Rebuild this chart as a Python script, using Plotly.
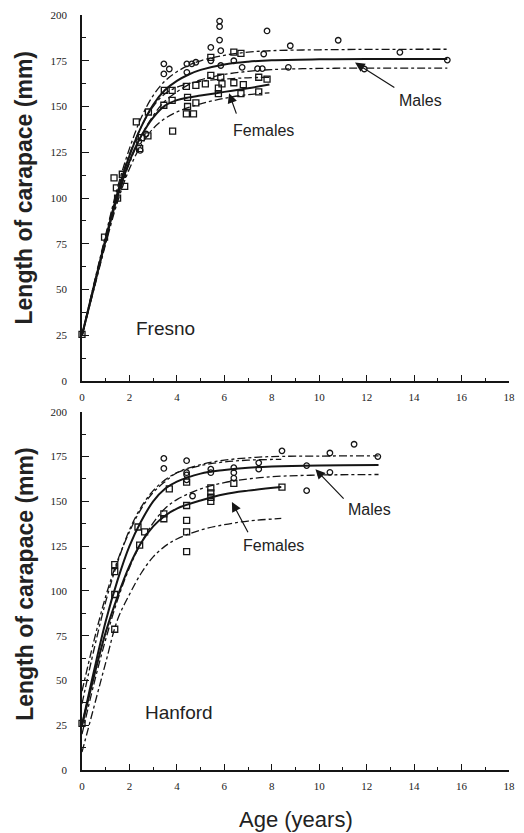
import plotly.graph_objects as go

# ---------------- Fresno ----------------
FM_T = [0, 0.5, 1, 1.5, 2, 2.5, 3, 3.5, 4, 4.5, 5, 6, 7, 8, 10, 12, 15.4]
FM_SOLID = [25, 52, 78, 103, 123, 139, 151, 159, 164, 167.5, 170, 173, 174.5, 175.3, 175.8, 176, 176]
FM_UP = [25, 53, 80, 106, 127, 144, 156, 164, 169, 172.5, 175, 178, 179.7, 180.5, 181, 181.2, 181.3]
FM_LO = [25, 51, 76, 100, 119, 134, 145, 153, 158, 162, 164.5, 167.5, 169.2, 170.2, 170.8, 171, 171]
FF_T = [0, 0.5, 1, 1.5, 2, 2.5, 3, 3.5, 4, 4.5, 5, 6, 7, 7.9]
FF_SOLID = [25, 51, 77, 101, 120, 134, 144, 150.5, 153.5, 155, 156, 158, 160, 162]
FF_UP = [25, 52, 79, 104, 124, 139, 150, 157, 160.5, 162.5, 163.8, 165, 165.7, 166]
FF_LO = [25, 50, 75, 98, 116, 129, 138, 143.5, 147, 149.5, 151.5, 154.5, 156.5, 157.5]

FRESNO_MALE_AGE = [2.4, 2.45, 2.7, 3.45, 3.45, 3.68, 4.42, 4.63, 4.8, 4.42, 5.43, 5.43, 5.8, 5.8, 5.8,
                   5.85, 5.85, 6.4, 6.75, 7.4, 7.6, 7.66, 7.8, 8.7, 8.78, 10.8, 11.9, 13.4, 15.4]
FRESNO_MALE_LEN = [131, 126, 135, 173.3, 167.8, 170.5, 173.3, 173.3, 174.2, 168.7, 182.3, 175, 196.7, 193.7, 186.3,
                   180.5, 172.4, 175, 171.4, 170.7, 170.7, 178.7, 191.3, 171.4, 183.2, 186.2, 170.5, 179.6, 175.4]
FRESNO_FEMALE_AGE = [0, 0.95, 1.35, 1.45, 1.5, 1.8, 1.7, 2.29, 2.43, 2.5, 2.78, 2.8, 3.45, 3.47, 3.8, 3.8,
                     3.82, 4.4, 4.7, 4.4, 4.8, 4.45, 4.8, 4.45, 5.2, 5.43, 5.43, 5.85, 5.75, 5.75, 5.9,
                     6.4, 6.8, 6.4, 6.7, 6.7, 7.45, 7.8, 7.45]
FRESNO_FEMALE_LEN = [25.5, 78.6, 111, 105.6, 100, 106.4, 113, 141.6, 127, 133, 134, 147, 150.7, 158.8, 158.8, 153.4,
                     136.6, 146, 146, 161, 161.5, 155, 152, 150, 162.4, 176.9, 167, 166, 160, 157, 162.4,
                     163, 162, 179.7, 179, 157, 166, 165, 158]

# ---------------- Hanford ----------------
HM_T = [0, 0.5, 1, 1.5, 2, 2.5, 3, 3.5, 4, 5, 6, 7, 8, 10, 12.5]
HM_SOLID = [25, 55, 83, 106, 125, 139, 150, 157, 161, 165.5, 167.5, 168.8, 169.5, 170.1, 170.3]
HM_UP = [44, 72, 97, 117, 133, 146, 155, 161, 166, 170.5, 173, 174.3, 175, 175.3, 175.4]
HM_LO = [20, 48, 73, 95, 113, 127, 138, 146, 151, 157, 160.5, 162.5, 163.8, 164.7, 165]
HF_T = [0, 0.5, 1, 1.5, 2, 2.5, 3, 3.5, 4, 5, 6, 7, 8.4]
HF_SOLID = [25, 52, 77, 97, 114, 127, 136, 142, 146, 150.5, 154, 156, 158]
HF_UP = [37, 67, 94, 116, 134, 147, 156, 162, 166, 170, 172, 173, 173.5]
HF_LO = [10, 35, 60, 84, 98, 110, 119, 125, 129, 134, 137, 139, 140.5]

HANFORD_MALE_AGE = [3.45, 3.45, 4.41, 4.41, 4.41, 4.41, 4.66, 5.43, 5.43, 6.4, 6.4, 6.4, 7.45, 7.45,
                    8.43, 9.47, 9.47, 10.45, 10.45, 11.47, 12.47]
HANFORD_MALE_LEN = [174, 168.4, 172.7, 166, 164.8, 162, 153, 168, 166, 168.8, 166, 163, 171.5, 168,
                    178.2, 170, 156, 177, 166.2, 181.9, 175]
HANFORD_FEMALE_AGE = [0, 1.38, 1.38, 1.38, 1.38, 2.36, 2.43, 2.64, 3.45, 3.45, 3.68, 4.41, 4.41, 4.41,
                      4.41, 4.41, 5.43, 5.43, 5.43, 5.43, 6.4, 8.43]
HANFORD_FEMALE_LEN = [26, 78.6, 98, 110.8, 114.7, 135.7, 125.6, 133, 143, 140.3, 157, 160.7, 147.7, 139.4,
                      133, 121.9, 157.5, 154.8, 152.3, 150, 160, 158]

X_TICKS = [0, 2, 4, 6, 8, 10, 12, 14, 16, 18]
Y_TICKS = [0, 25, 50, 75, 100, 125, 150, 175, 200]

INK = "#151515"
DASH = "8px,3px,3px,3px"

fig = go.Figure()


def add_panel(xa, ya, mt, ms, mu, ml, ft, fs, fu, fl, mage, mlen, fage, flen):
    for t, v, w, d in [(mt, mu, 1.3, DASH), (mt, ml, 1.3, DASH), (ft, fu, 1.3, DASH), (ft, fl, 1.3, DASH),
                       (mt, ms, 2.0, "solid"), (ft, fs, 2.0, "solid")]:
        fig.add_trace(go.Scatter(x=t, y=v, mode="lines", xaxis=xa, yaxis=ya,
                                 line=dict(color=INK, width=w, dash=d, shape="spline", smoothing=1.0),
                                 showlegend=False, hoverinfo="skip"))
    fig.add_trace(go.Scatter(x=fage, y=flen, mode="markers", xaxis=xa, yaxis=ya, cliponaxis=False,
                             marker=dict(symbol="square-open", size=6, color=INK, line=dict(width=1.3)),
                             showlegend=False))
    fig.add_trace(go.Scatter(x=mage, y=mlen, mode="markers", xaxis=xa, yaxis=ya, cliponaxis=False,
                             marker=dict(symbol="circle-open", size=5.5, color=INK, line=dict(width=1.3)),
                             showlegend=False))


add_panel("x", "y", FM_T, FM_SOLID, FM_UP, FM_LO, FF_T, FF_SOLID, FF_UP, FF_LO,
          FRESNO_MALE_AGE, FRESNO_MALE_LEN, FRESNO_FEMALE_AGE, FRESNO_FEMALE_LEN)
add_panel("x2", "y2", HM_T, HM_SOLID, HM_UP, HM_LO, HF_T, HF_SOLID, HF_UP, HF_LO,
          HANFORD_MALE_AGE, HANFORD_MALE_LEN, HANFORD_FEMALE_AGE, HANFORD_FEMALE_LEN)

tickfont = dict(family="Liberation Serif", size=11, color="#222")
xcommon = dict(range=[0, 18], tickvals=X_TICKS, ticks="inside", ticklen=6, tickwidth=1.2, tickcolor=INK,
               showline=True, linecolor=INK, linewidth=1.5, showgrid=False, zeroline=False,
               tickfont=tickfont, ticklabelstandoff=5,
               minor=dict(ticks="inside", ticklen=3, dtick=1, tick0=0, tickcolor=INK, tickwidth=1.2, showgrid=False))
ycommon = dict(range=[0, 200], tickvals=Y_TICKS, ticks="inside", ticklen=7, tickwidth=1.2, tickcolor=INK,
               showline=True, linecolor=INK, linewidth=1.5, showgrid=False, zeroline=False,
               tickfont=tickfont, ticklabelstandoff=11,
               minor=dict(ticks="inside", ticklen=4, dtick=12.5, tick0=0, tickcolor=INK, tickwidth=1.2, showgrid=False))

fig.update_layout(
    width=524, height=833,
    margin=dict(l=82, r=12, t=9, b=63),
    paper_bgcolor="white", plot_bgcolor="white",
    xaxis=dict(domain=[0, 1], anchor="y", **xcommon),
    yaxis=dict(domain=[0.5151, 1], anchor="x", **ycommon),
    xaxis2=dict(domain=[0, 1], anchor="y2", **xcommon),
    yaxis2=dict(domain=[0, 0.4744], anchor="x2", **ycommon),
)

lab = dict(family="Liberation Sans", size=16, color="#222")
big = dict(family="Liberation Sans", size=19, color="#222")
ann = [
    dict(x=7.66, y=137.1, xref="x", yref="y", text="Females", showarrow=False, font=lab),
    dict(x=14.27, y=153.4, xref="x", yref="y", text="Males", showarrow=False, font=lab),
    dict(x=3.52, y=28.7, xref="x", yref="y", text="Fresno", showarrow=False, font=big),
    dict(x=6.2, y=157.2, ax=6.53, ay=145.3, xref="x", yref="y", axref="x", ayref="y", text="",
         showarrow=True, arrowhead=2, arrowsize=1.6, arrowwidth=1.2, arrowcolor=INK),
    dict(x=11.51, y=174, ax=13.23, ay=159.9, xref="x", yref="y", axref="x", ayref="y", text="",
         showarrow=True, arrowhead=2, arrowsize=1.6, arrowwidth=1.2, arrowcolor=INK),
    dict(x=8.08, y=125.2, xref="x2", yref="y2", text="Females", showarrow=False, font=lab),
    dict(x=12.1, y=145.7, xref="x2", yref="y2", text="Males", showarrow=False, font=lab),
    dict(x=4.1, y=32.1, xref="x2", yref="y2", text="Hanford", showarrow=False, font=big),
    dict(x=6.32, y=149.6, ax=7.03, ay=131.9, xref="x2", yref="y2", axref="x2", ayref="y2", text="",
         showarrow=True, arrowhead=2, arrowsize=1.6, arrowwidth=1.2, arrowcolor=INK),
    dict(x=9.84, y=167.9, ax=11.09, ay=150.7, xref="x2", yref="y2", axref="x2", ayref="y2", text="",
         showarrow=True, arrowhead=2, arrowsize=1.6, arrowwidth=1.2, arrowcolor=INK),
    dict(x=-0.135, y=0.772, xref="paper", yref="paper", text="<b>Length of carapace (mm)</b>",
         textangle=-90, showarrow=False, xanchor="center", yanchor="middle",
         font=dict(family="Liberation Sans", size=23, color="#222")),
    dict(x=-0.135, y=0.247, xref="paper", yref="paper", text="<b>Length of carapace (mm)</b>",
         textangle=-90, showarrow=False, xanchor="center", yanchor="middle",
         font=dict(family="Liberation Sans", size=23, color="#222")),
    dict(x=0.5, y=-0.0657, xref="paper", yref="paper", text="Age (years)", showarrow=False,
         xanchor="center", yanchor="middle", font=dict(family="Liberation Sans", size=22, color="#222")),
]
fig.update_layout(annotations=ann)

fig.write_html("out.html")
